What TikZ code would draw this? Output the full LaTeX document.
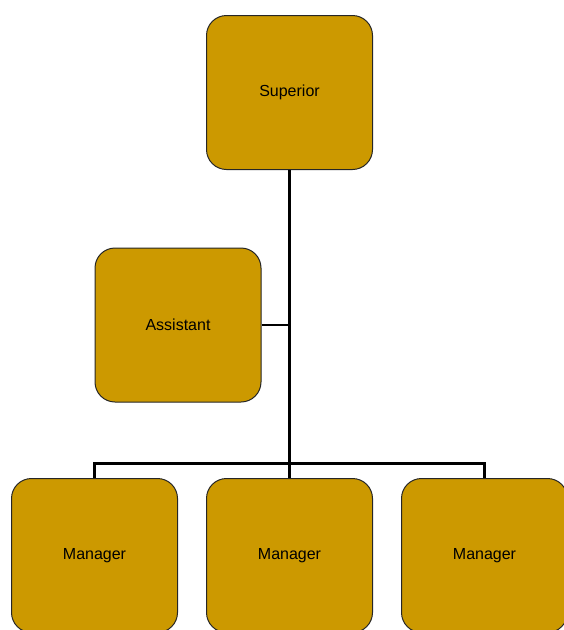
\documentclass[tikz,border=0pt]{standalone}
\usepackage{fontspec}
\setmainfont{Liberation Sans}
\usepackage{xcolor}
\usepackage{tikz}
\usetikzlibrary{calc}
\usetikzlibrary{positioning}

\definecolor{gold}{HTML}{CC9900}

\begin{document}
\begin{tikzpicture}[x=1pt, y=1pt]

        \def\d{28pt}

        % One look for every post of the chart
        \tikzset{post/.style={draw=black!85, fill=gold, rounded corners=20pt,
            minimum width=166pt, minimum height=154pt, inner sep=0pt,
            line width=1pt, font=\fontsize{16}{19}\selectfont}}

        \useasboundingbox (0, 0) rectangle (564, -630);

        \begin{scope}
            \node[post] (S) at (289.5, -92.5) {Superior};
            \node[post] (A) at (178, -325) {Assistant};
            \node[post] (M2) at (289.5, -555.5) {Manager};
            \node[post] (M1) [left=\d of M2] {Manager};
            \node[post] (M3) [right=\d of M2] {Manager};
            \coordinate (J) at (289.5, -463);
        \end{scope}

        \begin{scope}[line width=3pt]
            \draw (S) -- (J);
            \draw (J) -- (M2);
            \draw (M1.north) |- (J) -| (M3.north);
        \end{scope}

        \draw[line width=2pt] (A.east) -- (A.east -| S.south);

\end{tikzpicture}
\end{document}
